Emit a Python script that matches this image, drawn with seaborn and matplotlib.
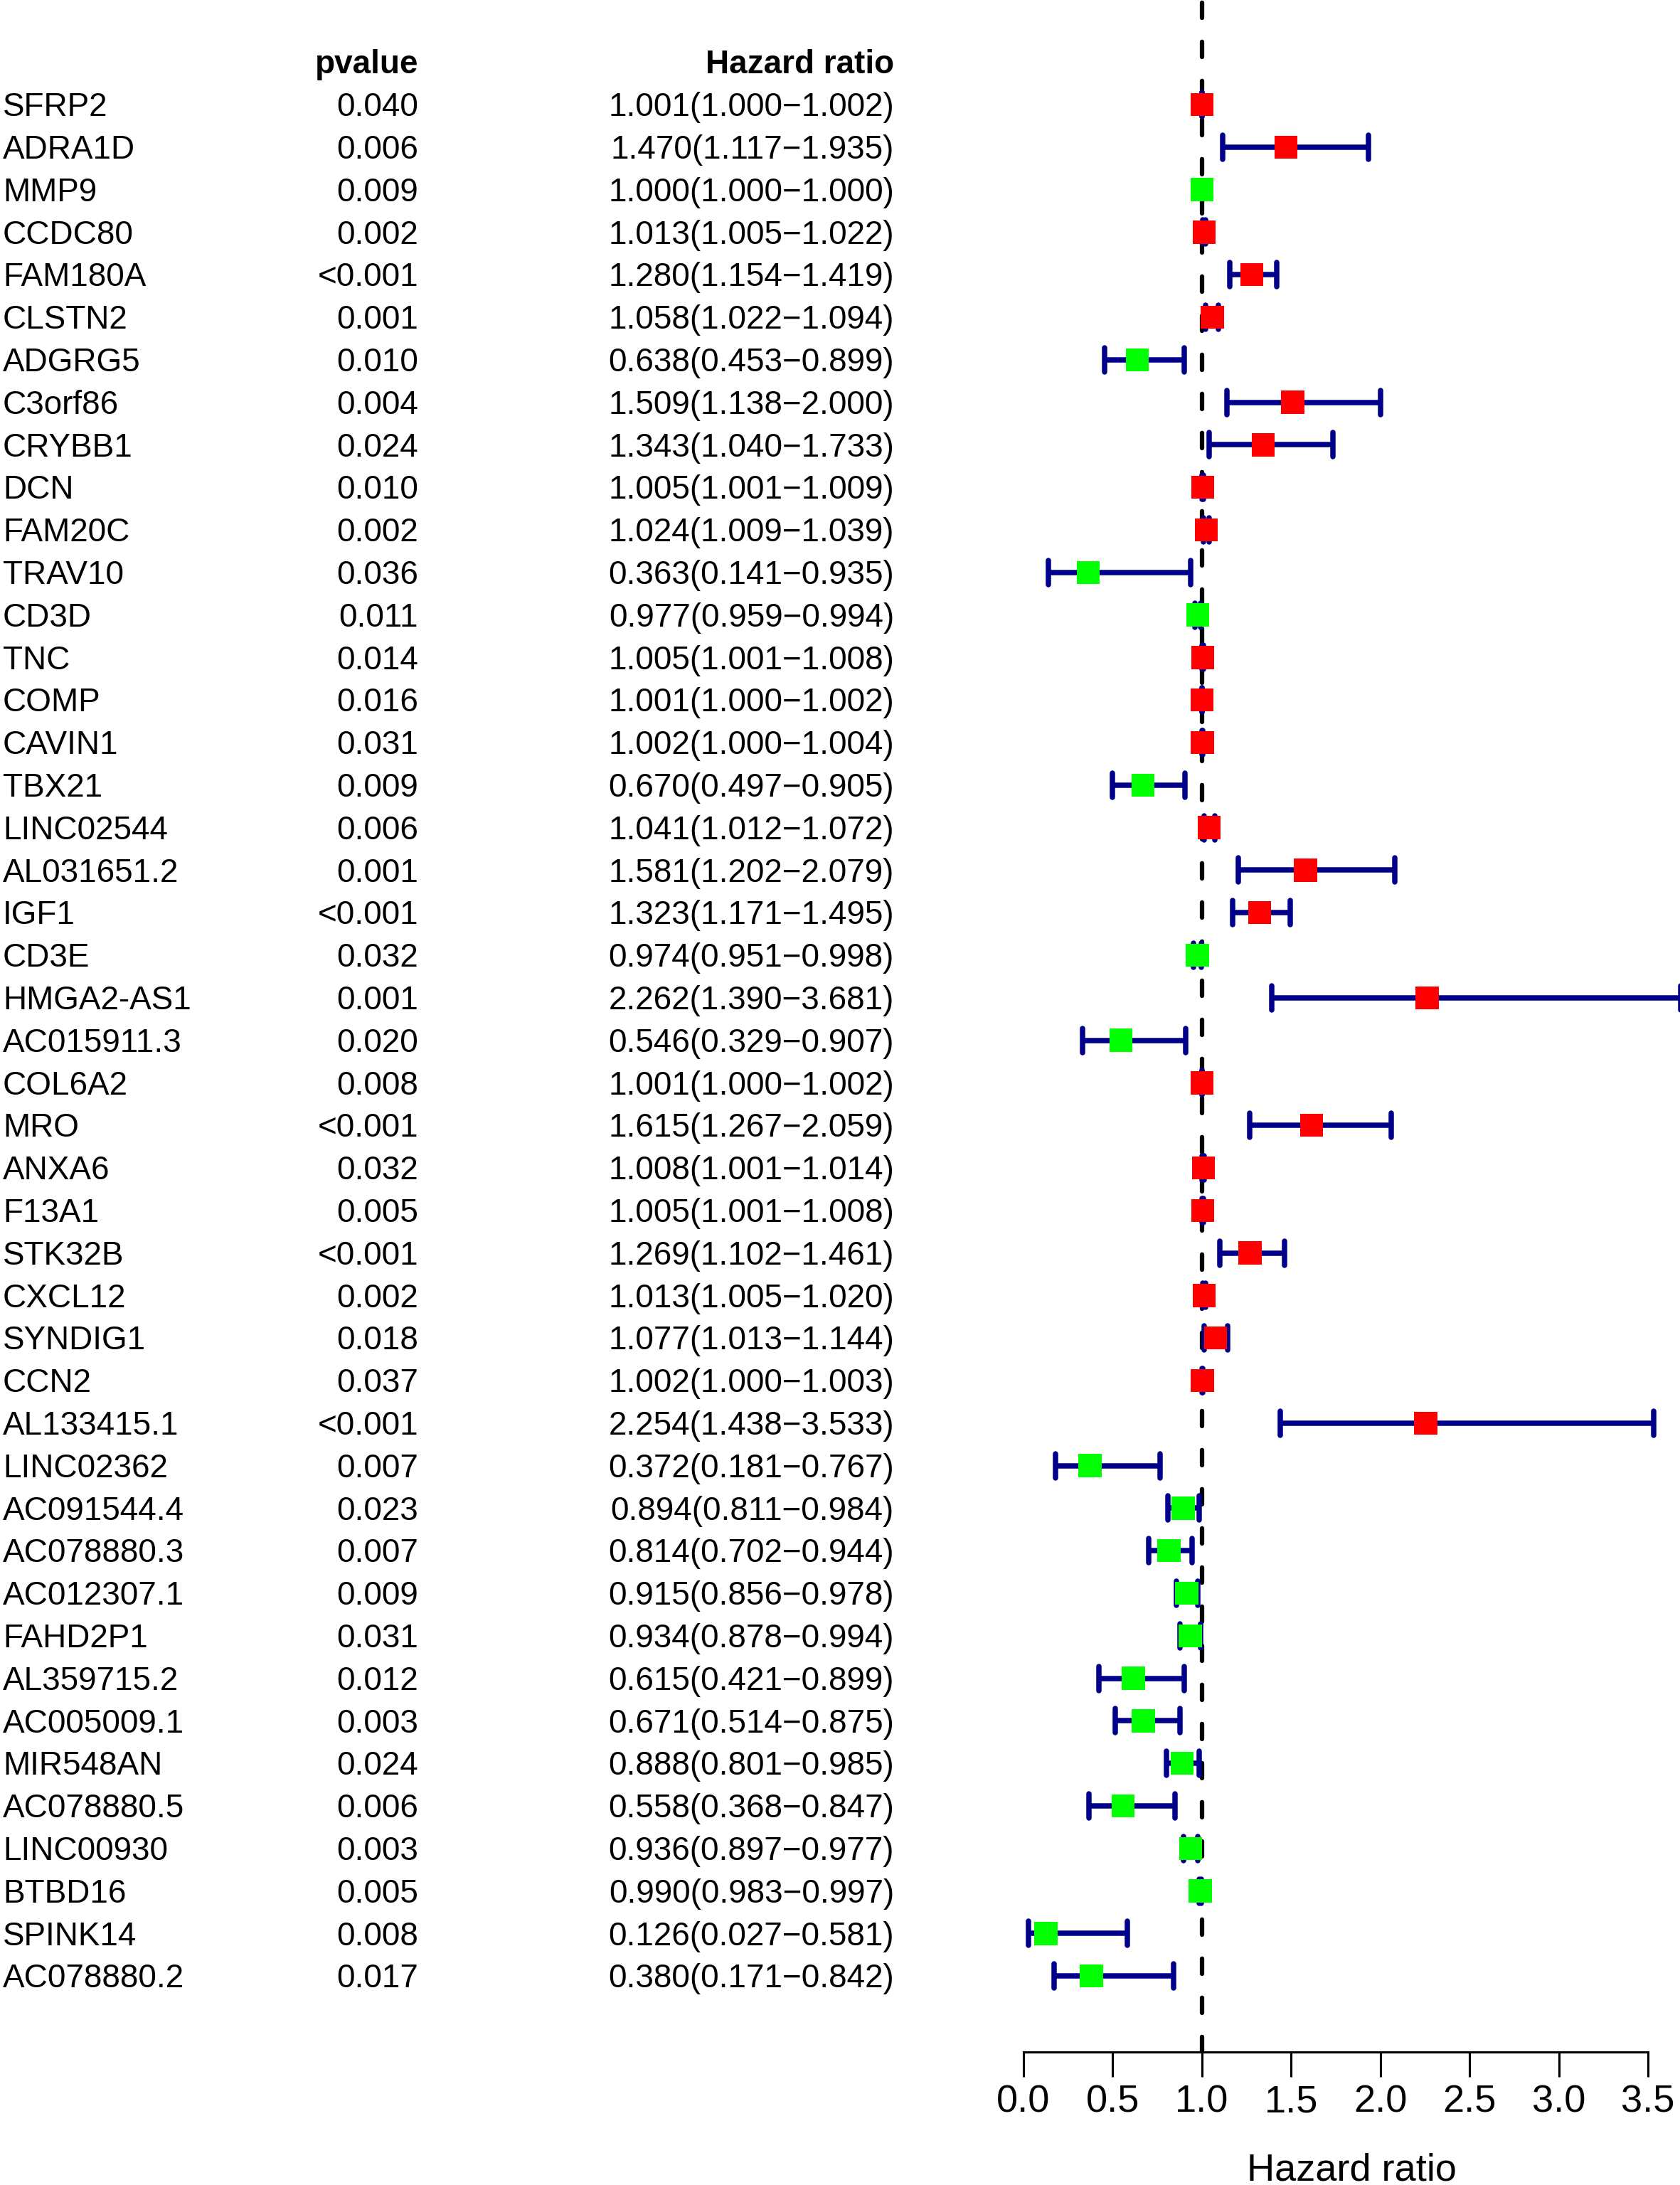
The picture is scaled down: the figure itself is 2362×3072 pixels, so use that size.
import matplotlib
matplotlib.use('Agg')
import numpy as np
import pandas as pd
import matplotlib.pyplot as plt
import matplotlib.transforms as mtransforms
import seaborn as sns

# values
genes = ['SFRP2', 'ADRA1D', 'MMP9', 'CCDC80', 'FAM180A', 'CLSTN2', 'ADGRG5', 'C3orf86',
         'CRYBB1', 'DCN', 'FAM20C', 'TRAV10', 'CD3D', 'TNC', 'COMP', 'CAVIN1', 'TBX21',
         'LINC02544', 'AL031651.2', 'IGF1', 'CD3E', 'HMGA2-AS1', 'AC015911.3', 'COL6A2',
         'MRO', 'ANXA6', 'F13A1', 'STK32B', 'CXCL12', 'SYNDIG1', 'CCN2', 'AL133415.1',
         'LINC02362', 'AC091544.4', 'AC078880.3', 'AC012307.1', 'FAHD2P1', 'AL359715.2',
         'AC005009.1', 'MIR548AN', 'AC078880.5', 'LINC00930', 'BTBD16', 'SPINK14',
         'AC078880.2']
pvalues = ['0.040', '0.006', '0.009', '0.002', '<0.001', '0.001', '0.010', '0.004',
           '0.024', '0.010', '0.002', '0.036', '0.011', '0.014', '0.016', '0.031', '0.009',
           '0.006', '0.001', '<0.001', '0.032', '0.001', '0.020', '0.008',
           '<0.001', '0.032', '0.005', '<0.001', '0.002', '0.018', '0.037', '<0.001',
           '0.007', '0.023', '0.007', '0.009', '0.031', '0.012',
           '0.003', '0.024', '0.006', '0.003', '0.005', '0.008',
           '0.017']
hr = [1.001, 1.470, 1.000, 1.013, 1.280, 1.058, 0.638, 1.509,
      1.343, 1.005, 1.024, 0.363, 0.977, 1.005, 1.001, 1.002, 0.670,
      1.041, 1.581, 1.323, 0.974, 2.262, 0.546, 1.001,
      1.615, 1.008, 1.005, 1.269, 1.013, 1.077, 1.002, 2.254,
      0.372, 0.894, 0.814, 0.915, 0.934, 0.615,
      0.671, 0.888, 0.558, 0.936, 0.990, 0.126,
      0.380]
hr_low = [1.000, 1.117, 1.000, 1.005, 1.154, 1.022, 0.453, 1.138,
          1.040, 1.001, 1.009, 0.141, 0.959, 1.001, 1.000, 1.000, 0.497,
          1.012, 1.202, 1.171, 0.951, 1.390, 0.329, 1.000,
          1.267, 1.001, 1.001, 1.102, 1.005, 1.013, 1.000, 1.438,
          0.181, 0.811, 0.702, 0.856, 0.878, 0.421,
          0.514, 0.801, 0.368, 0.897, 0.983, 0.027,
          0.171]
hr_high = [1.002, 1.935, 1.000, 1.022, 1.419, 1.094, 0.899, 2.000,
           1.733, 1.009, 1.039, 0.935, 0.994, 1.008, 1.002, 1.004, 0.905,
           1.072, 2.079, 1.495, 0.998, 3.681, 0.907, 1.002,
           2.059, 1.014, 1.008, 1.461, 1.020, 1.144, 1.003, 3.533,
           0.767, 0.984, 0.944, 0.978, 0.994, 0.899,
           0.875, 0.985, 0.847, 0.977, 0.997, 0.581,
           0.842]
xticks = [0.0, 0.5, 1.0, 1.5, 2.0, 2.5, 3.0, 3.5]

df = pd.DataFrame({'gene': genes, 'pvalue': pvalues, 'hr': hr,
                   'low': hr_low, 'high': hr_high})
df['row'] = -np.arange(len(df))
df['dir'] = np.where(df['hr'] > 1, 'up', 'down')
df['label'] = [f'{h:.3f}({l:.3f}\u2212{u:.3f})' for h, l, u in zip(df.hr, df.low, df.high)]

sns.set_theme(style='ticks', rc={'text.color': 'black', 'axes.labelcolor': 'black',
                                 'xtick.color': 'black', 'axes.edgecolor': 'black'})
plt.rcParams['font.family'] = ['Liberation Sans', 'DejaVu Sans']

W, H, DPI = 2362, 3072, 300
fig = plt.figure(figsize=(W / DPI, H / DPI), dpi=DPI)
fig.patch.set_facecolor('white')

# forest panel: left edge at HR=0, bottom at the axis line
x0_px, axis_px = 1439, 2885
ax = fig.add_axes([x0_px / W, 1 - axis_px / H, 1 - x0_px / W, axis_px / H])
ax.set_facecolor('white')

row_px, first_px = 59.8, 147
ytop = first_px / row_px
ybot = -(axis_px - first_px) / row_px
unit_px = 250.9
xmax = (W - x0_px) / unit_px

# reference line at HR = 1
ax.axvline(1, color='black', lw=1.5, linestyle=(0, (3.4, 5.4)),
           dash_capstyle='round', zorder=1)

# confidence intervals (zero-length intervals are not drawn)
ci = df[df['high'] > df['low']]
ax.hlines(ci['row'], ci['low'], ci['high'], color='#00008B', lw=1.8,
          zorder=2, clip_on=False)
cap = 0.284
ax.vlines(np.concatenate([ci['low'], ci['high']]),
          np.concatenate([ci['row'], ci['row']]) - cap,
          np.concatenate([ci['row'], ci['row']]) + cap,
          color='#00008B', lw=1.8, capstyle='round', zorder=2, clip_on=False)

sns.scatterplot(data=df, x='hr', y='row', hue='dir',
                palette={'up': '#FF0000', 'down': '#00FF00'},
                marker='s', s=61, linewidth=0, legend=False, ax=ax,
                zorder=3, clip_on=False)

ax.set_xlim(0, xmax)
ax.set_ylim(ybot, ytop)
for side in ['top', 'right', 'left']:
    ax.spines[side].set_visible(False)
ax.spines['bottom'].set_linewidth(0.75)
ax.spines['bottom'].set_bounds(0, 3.5)
ax.set_yticks([])
ax.set_ylabel('')
ax.set_xticks(xticks)
ax.set_xticklabels([f'{t:.1f}' for t in xticks])
ax.tick_params(axis='x', length=8.4, width=0.75, pad=2.5, labelsize=13)
ax.set_xlabel('Hazard ratio', fontsize=13, labelpad=11)

# table on the left
trans = mtransforms.blended_transform_factory(fig.transFigure, ax.transData)
fs = 11
dy = -0.07
x_gene, x_p, x_hr = 4 / W, 588 / W, 1257 / W
ax.text(x_p, 1 + dy, 'pvalue', transform=trans, ha='right', va='center',
        fontsize=fs, fontweight='bold', clip_on=False)
ax.text(x_hr, 1 + dy, 'Hazard ratio', transform=trans, ha='right', va='center',
        fontsize=fs, fontweight='bold', clip_on=False)
for _, r in df.iterrows():
    ax.text(x_gene, r['row'] + dy, r['gene'], transform=trans, ha='left', va='center',
            fontsize=fs, clip_on=False)
    ax.text(x_p, r['row'] + dy, r['pvalue'], transform=trans, ha='right', va='center',
            fontsize=fs, clip_on=False)
    ax.text(x_hr, r['row'] + dy, r['label'], transform=trans, ha='right', va='center',
            fontsize=fs, clip_on=False)

fig.savefig('out.png', dpi=DPI, facecolor='white')
